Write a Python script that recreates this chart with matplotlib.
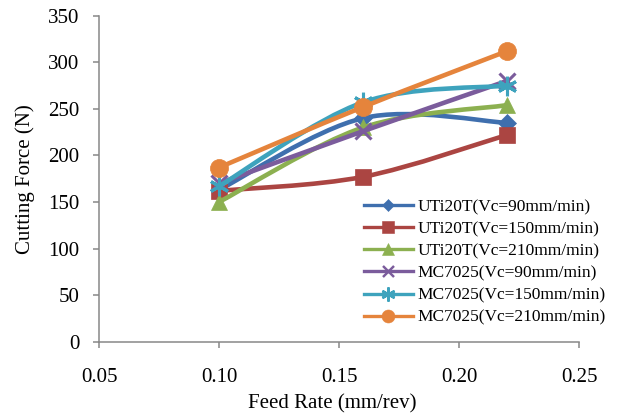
import matplotlib
matplotlib.use("Agg")
import matplotlib.pyplot as plt
from matplotlib.path import Path
from matplotlib.patches import PathPatch
from matplotlib.lines import Line2D

plt.rcParams['font.family'] = ['Liberation Serif', 'DejaVu Serif']

feed = [0.10, 0.16, 0.22]
labels = ["UTi20T(Vc=90mm/min)", "UTi20T(Vc=150mm/min)", "UTi20T(Vc=210mm/min)",
          "MC7025(Vc=90mm/min)", "MC7025(Vc=150mm/min)", "MC7025(Vc=210mm/min)"]
uti_90 = [163, 240, 235]
uti_150 = [162, 177, 222]
uti_210 = [150, 230, 254]
mc_90 = [170, 226, 280]
mc_150 = [167, 257, 275]
mc_210 = [187, 252, 312]
series = [uti_90, uti_150, uti_210, mc_90, mc_150, mc_210]

colors = ["#3f6fae", "#ab4542", "#8cb050", "#7b5c9c", "#3ea3bd", "#e5843c"]
markers = ["D", "s", "^", "x", (6, 2, 0), "o"]
msizes = [9, 12, 12, 11, 14, 13]

fig = plt.figure(figsize=(6.18, 4.2), dpi=100)
ax = fig.add_axes([0.1602, 0.1864, 0.9369 - 0.1602, 0.9626 - 0.1864])


def smooth_path(xs, ys):
    pts = list(zip(xs, ys))
    n = len(pts)
    verts = [pts[0]]
    codes = [Path.MOVETO]
    for i in range(n - 1):
        p0 = pts[i - 1] if i > 0 else pts[i]
        p1 = pts[i]
        p2 = pts[i + 1]
        p3 = pts[i + 2] if i + 2 < n else pts[i + 1]
        c1 = (p1[0] + (p2[0] - p0[0]) / 6, p1[1] + (p2[1] - p0[1]) / 6)
        c2 = (p2[0] - (p3[0] - p1[0]) / 6, p2[1] - (p3[1] - p1[1]) / 6)
        verts += [c1, c2, p2]
        codes += [Path.CURVE4] * 3
    return Path(verts, codes)


handles = []
for k, (ys, lab, c, m, ms) in enumerate(zip(series, labels, colors, markers, msizes)):
    patch = PathPatch(smooth_path(feed, ys), facecolor='none', edgecolor=c,
                      lw=3.3, zorder=2 + 2 * k, capstyle='round', joinstyle='round')
    ax.add_patch(patch)
    mew = 2.2 if m in ("x", (6, 2, 0)) else 0.5
    ax.plot(feed, ys, linestyle='none', marker=m, markersize=ms, color=c,
            markeredgecolor=c, markeredgewidth=mew, zorder=3 + 2 * k)
    handles.append(Line2D([], [], color=c, lw=2.4, marker=m,
                          markersize=ms * 0.72, markeredgecolor=c,
                          markeredgewidth=mew * 0.8, label=lab))

ax.set_xlim(0.05, 0.25)
ax.set_ylim(0, 350)
ax.set_xticks([0.05, 0.10, 0.15, 0.20, 0.25])
ax.set_xticklabels(["0.05", "0.10", "0.15", "0.20", "0.25"])
ax.set_yticks(range(0, 351, 50))

gray = "#878787"
for s in ["top", "right"]:
    ax.spines[s].set_visible(False)
for s in ["left", "bottom"]:
    ax.spines[s].set_color(gray)
    ax.spines[s].set_linewidth(1.1)
ax.tick_params(axis='both', direction='out', color=gray, width=1.1, length=4,
               labelsize=15, labelcolor='black')
ax.tick_params(axis='y', pad=10)
ax.tick_params(axis='x', pad=15)

ax.set_xlabel("Feed Rate (mm/rev)", fontsize=15)
ax.set_ylabel("Cutting Force (N)", fontsize=15)
ax.xaxis.set_label_coords(0.485, -0.16)
ax.yaxis.set_label_coords(-0.133, 0.5)

leg = ax.legend(handles=handles, loc='upper left', bbox_to_anchor=(0.552, 0.437),
                frameon=False, fontsize=12.5, handlelength=2.8, handletextpad=0.29,
                labelspacing=0.34, borderpad=0, borderaxespad=0)

fig.savefig("out.png", dpi=100)
